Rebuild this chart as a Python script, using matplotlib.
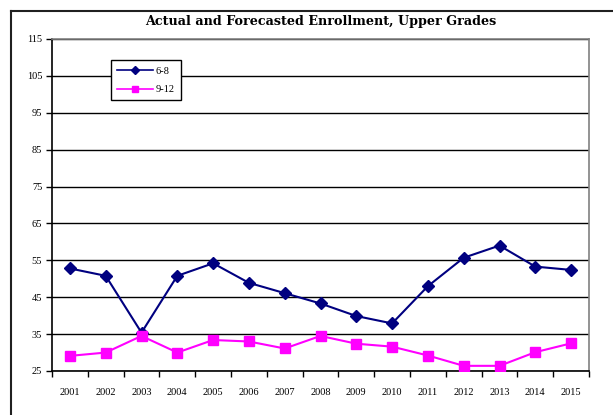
import matplotlib
matplotlib.use("Agg")
import matplotlib.pyplot as plt
from matplotlib.lines import Line2D

years = ["2001", "2002", "2003", "2004", "2005", "2006", "2007", "2008",
         "2009", "2010", "2011", "2012", "2013", "2014", "2015"]
grades_6_8 = [52.8, 50.8, 35.4, 50.8, 54.2, 48.9, 46.1, 43.3, 39.9, 37.9,
              48.0, 55.7, 59.0, 53.3, 52.4]
grades_9_12 = [29.1, 30.0, 34.5, 30.0, 33.4, 33.0, 31.1, 34.5, 32.4, 31.6,
               29.2, 26.4, 26.4, 30.1, 32.5]
yticks = [25, 35, 45, 55, 65, 75, 85, 95, 105, 115]
title = "Actual and Forecasted Enrollment, Upper Grades"

plt.rcParams['font.family'] = ['Liberation Serif', 'DejaVu Serif']

fig = plt.figure(figsize=(6.13, 4.15), dpi=100)
W, H = 613, 415
ax = fig.add_axes([52 / W, 1 - 371 / H, (589 - 52) / W, (371 - 39) / H])

x = list(range(len(years)))
ax.plot(x, grades_6_8, color="#000080", marker="D", markersize=6.5,
        linewidth=1.5, label="6-8", zorder=3)
ax.plot(x, grades_9_12, color="#FF00FF", marker="s", markersize=7,
        linewidth=1.5, label="9-12", zorder=3)

ax.set_xlim(-0.5, len(years) - 0.5)
ax.set_ylim(25, 115)
ax.set_yticks(yticks)
ax.set_yticklabels([str(v) for v in yticks], fontsize=7.5)
ax.yaxis.grid(True, color="black", linewidth=1)
ax.set_axisbelow(True)

ax.set_xticks([i - 0.5 for i in range(len(years) + 1)])
ax.set_xticklabels([])
ax.set_xticks(x, minor=True)
ax.set_xticklabels(years, minor=True, fontsize=7.5)
ax.tick_params(axis="x", which="minor", length=0, pad=12)
ax.tick_params(axis="x", which="major", length=4, direction="out", width=1)
ax.tick_params(axis="y", length=4, direction="out", width=1, pad=3)

for s in ["top", "right"]:
    ax.spines[s].set_color("#808080")
    ax.spines[s].set_linewidth(1.2)
for s in ["left", "bottom"]:
    ax.spines[s].set_color("black")
    ax.spines[s].set_linewidth(1.2)

leg = ax.legend(loc="upper left", bbox_to_anchor=((111 - 52) / 537, 1 - (60 - 39) / 332),
                fontsize=7.5, frameon=True, fancybox=False, framealpha=1,
                edgecolor="black", borderpad=0.6, handlelength=3.4,
                labelspacing=0.9, handletextpad=0.3, borderaxespad=0,
                markerscale=0.7)
leg.get_frame().set_linewidth(1)
for h in leg.get_lines():
    h.set_linewidth(1.2)

fig.text(321 / W, 1 - 22 / H, title, ha="center", va="center",
         fontsize=9.2, fontweight="bold", family=["DejaVu Serif"])

# outer chart frame
fig.add_artist(Line2D([11 / W, 1.0], [1 - 11 / H, 1 - 11 / H], color="#202020",
                      linewidth=1.5, transform=fig.transFigure))
fig.add_artist(Line2D([11 / W, 11 / W], [1 - 11 / H, 0.0], color="#202020",
                      linewidth=1.5, transform=fig.transFigure))

fig.savefig("out.png", dpi=100)
